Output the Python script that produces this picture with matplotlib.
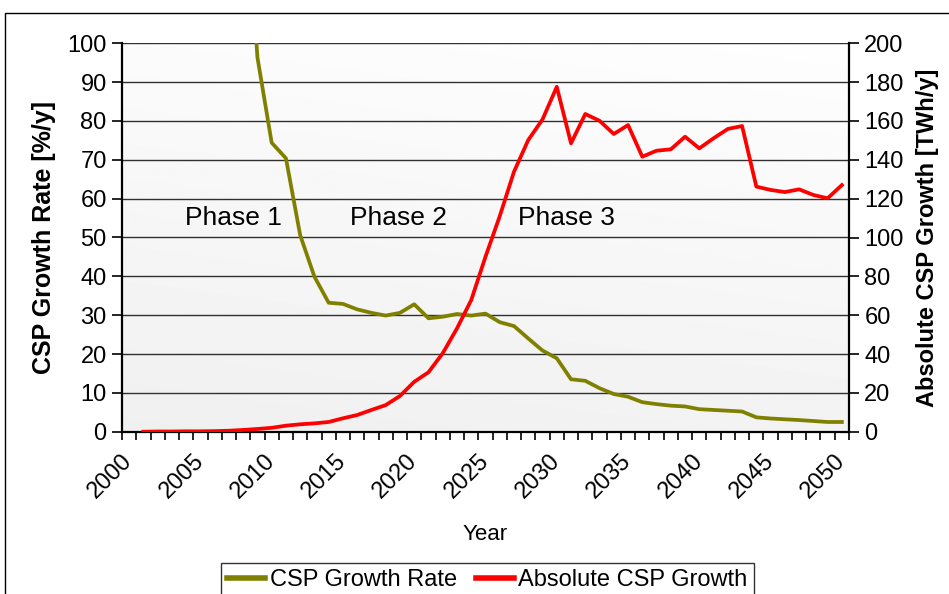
import numpy as np
import matplotlib
matplotlib.use('Agg')
import matplotlib.pyplot as plt
from matplotlib.patches import Rectangle

plt.rcParams['font.family'] = ['Liberation Sans', 'DejaVu Sans']

# Data
years = list(range(2001, 2051))

# CSP growth rate [%/y] (left axis); first years are off the chart
growth_rate = [np.nan] * 7 + [
    150.0, 96.4, 74.4, 70.4, 50.6, 39.9, 33.2, 32.9, 31.5, 30.6,
    29.9, 30.6, 32.8, 29.2, 29.6, 30.3, 29.9, 30.4, 28.2, 27.2,
    24.0, 20.9, 18.9, 13.5, 13.1, 11.2, 9.7, 9.0, 7.6, 7.1,
    6.7, 6.5, 5.8, 5.6, 5.4, 5.2, 3.7, 3.4, 3.2, 3.0,
    2.75, 2.5, 2.5]

# Absolute CSP growth [TWh/y] (right axis)
abs_growth = [
    0.0, 0.1, 0.1, 0.2, 0.2, 0.3, 0.5, 0.9, 1.4, 2.0,
    3.1, 3.8, 4.3, 5.0, 6.9, 8.6, 11.2, 13.7, 18.4, 25.7,
    30.6, 40.4, 53.2, 67.8, 90.1, 111.0, 133.9, 150.2, 160.8, 177.6,
    148.5, 163.6, 160.1, 153.3, 157.9, 141.6, 144.7, 145.4, 151.9, 145.9,
    151.1, 155.9, 157.4, 126.2, 124.5, 123.4, 124.8, 121.9, 120.2, 127.0]

label_years = list(range(2000, 2051, 5))
phases = ['Phase 1', 'Phase 2', 'Phase 3']
phase_x = [2007.3, 2018.9, 2030.7]
phase_y = [55, 55, 55]

fig = plt.figure(figsize=(9.49, 5.94), dpi=100)
ax = fig.add_axes([122 / 949, 1 - 431.7 / 594, 727 / 949, 388.4 / 594])

# light gray gradient for the plot area
gy, gx = np.mgrid[0:1:200j, 0:1:200j]
shade = 0.94 + 0.055 * (gy * 0.8 + gx * 0.2)
ax.imshow(shade, cmap='gray', vmin=0, vmax=1, origin='lower', aspect='auto',
          extent=[0, 1, 0, 1], transform=ax.transAxes, zorder=0)

ax.set_xlim(1999.5, 2050.5)
ax.set_ylim(0, 100)
ax.set_yticks(range(0, 101, 10))
ax.yaxis.grid(True, color='#303030', linewidth=1.0)
ax.set_axisbelow(True)
for s in ['top', 'right']:
    ax.spines[s].set_visible(False)
ax.spines['left'].set_linewidth(1.6)
ax.spines['bottom'].set_linewidth(1.6)

ax.set_xticks(label_years)
ax.set_xticklabels([str(y) for y in label_years], rotation=45, ha='right',
                   va='center', rotation_mode='anchor', fontsize=17)
ax.set_xticks(np.arange(1999.5, 2051, 1.0), minor=True)
ax.tick_params(axis='x', which='major', length=0, pad=19)
ax.tick_params(axis='x', which='minor', length=6, width=1.2, direction='out')
ax.tick_params(axis='y', length=7, width=1.2, labelsize=17, pad=4)

ax.plot(years, growth_rate, color='#808000', linewidth=2.7,
        label='CSP Growth Rate', zorder=3)
ax.set_ylabel('CSP Growth Rate [%/y]', fontsize=18, fontweight='bold',
              labelpad=8)
ax.set_xlabel('Year', fontsize=16, labelpad=15)

for name, px, py in zip(phases, phase_x, phase_y):
    ax.text(px, py, name, fontsize=19, ha='center', va='center')

ax2 = ax.twinx()
ax2.set_ylim(0, 200)
ax2.set_yticks(range(0, 201, 20))
ax2.plot(years, abs_growth, color='#ff0000', linewidth=2.7,
         label='Absolute CSP Growth')
for s in ['top', 'left', 'bottom']:
    ax2.spines[s].set_visible(False)
ax2.spines['right'].set_linewidth(1.6)
ax2.tick_params(axis='y', length=7, width=1.2, labelsize=17, pad=4)
ax2.set_ylabel('Absolute CSP Growth [TWh/y]', fontsize=17, fontweight='bold',
               labelpad=9)

h1, l1 = ax.get_legend_handles_labels()
h2, l2 = ax2.get_legend_handles_labels()
leg = fig.legend(h1 + h2, l1 + l2, loc='upper center', ncol=2,
                 bbox_to_anchor=(487.5 / 949, 1 - 563 / 594),
                 fontsize=17, frameon=True, fancybox=False,
                 handlelength=1.6, handletextpad=0.2, columnspacing=0.8,
                 borderpad=0.25, borderaxespad=0)
leg.get_frame().set_edgecolor('black')
leg.get_frame().set_linewidth(1.0)
for line in leg.get_lines():
    line.set_linewidth(4)

# outer chart frame (clipped by the figure edge on the right and bottom)
fig.patches.append(Rectangle((5 / 949, -0.2), 2.0, 1.2 - 13 / 594,
                             transform=fig.transFigure, fill=False,
                             edgecolor='black', linewidth=1.0))

fig.savefig('out.png', dpi=100)
